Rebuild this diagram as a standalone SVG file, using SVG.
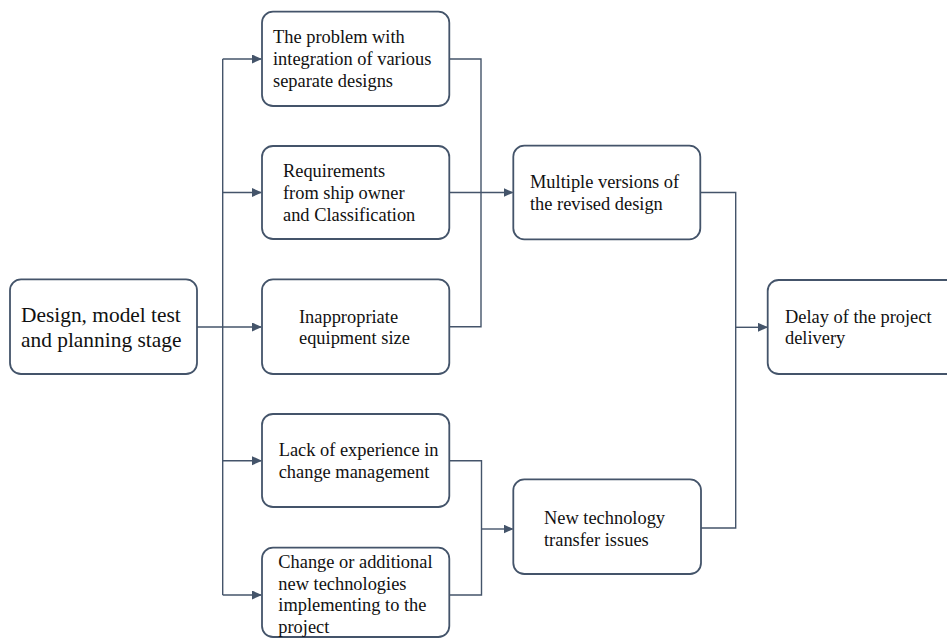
<svg xmlns="http://www.w3.org/2000/svg" width="947" height="639" viewBox="0 0 947 639">
  <style>
    .box { fill: #ffffff; stroke: #44546a; stroke-width: 1.8; }
    .lbl { font-family: 'Liberation Serif', 'DejaVu Serif', 'Times New Roman', Times, serif; font-size: 18.4px; fill: #111111; }
    .big { font-size: 21.4px; }
    .wire { fill: none; stroke: #44546a; stroke-width: 1.4; }
  </style>
  <defs>
    <marker id="arrow" markerWidth="10" markerHeight="10" refX="9" refY="4.5" orient="auto" markerUnits="userSpaceOnUse">
      <path d="M0,0 L10,4.5 L0,9 Z" fill="#44546a"/>
    </marker>
  </defs>
  <rect width="947" height="639" fill="#ffffff"/>

  <!-- connectors -->
  <g id="connectors">
    <!-- trunk from the design stage to the five causes -->
    <line class="wire" x1="222.7" y1="59" x2="222.7" y2="595"/>
    <line class="wire" x1="197" y1="327" x2="261" y2="327" marker-end="url(#arrow)"/>
    <line class="wire" x1="222.7" y1="59" x2="261" y2="59" marker-end="url(#arrow)"/>
    <line class="wire" x1="222.7" y1="192.5" x2="261" y2="192.5" marker-end="url(#arrow)"/>
    <line class="wire" x1="222.7" y1="460.7" x2="261" y2="460.7" marker-end="url(#arrow)"/>
    <line class="wire" x1="222.7" y1="595" x2="261" y2="595" marker-end="url(#arrow)"/>
    <!-- upper bracket to "Multiple versions" -->
    <polyline class="wire" points="449,59 481,59 481,326.7 449,326.7"/>
    <line class="wire" x1="449" y1="192.5" x2="512.5" y2="192.5" marker-end="url(#arrow)"/>
    <!-- lower bracket to "New technology" -->
    <polyline class="wire" points="449,460.7 481.5,460.7 481.5,595 449,595"/>
    <line class="wire" x1="481.5" y1="529" x2="512.5" y2="529" marker-end="url(#arrow)"/>
    <!-- final bracket to "Delay" -->
    <polyline class="wire" points="700,192.5 735.7,192.5 735.7,528 701,528"/>
    <line class="wire" x1="735.7" y1="327.3" x2="767" y2="327.3" marker-end="url(#arrow)"/>
  </g>

  <g id="design-stage">
    <rect class="box" x="10" y="279.3" width="187" height="94.7" rx="11"/>
    <text class="lbl big" x="21" y="321.7">Design, model test</text>
    <text class="lbl big" x="21" y="346.7">and planning stage</text>
  </g>

  <g id="integration">
    <rect class="box" x="262" y="11.7" width="187.3" height="94.3" rx="11"/>
    <text class="lbl" x="273" y="43.3">The problem with</text>
    <text class="lbl" x="273" y="65">integration of various</text>
    <text class="lbl" x="273" y="86.7">separate designs</text>
  </g>

  <g id="requirements">
    <rect class="box" x="262" y="146" width="187.3" height="93" rx="11"/>
    <text class="lbl" x="283" y="176.7">Requirements</text>
    <text class="lbl" x="283" y="199">from ship owner</text>
    <text class="lbl" x="283" y="221">and Classification</text>
  </g>

  <g id="equipment-size">
    <rect class="box" x="262" y="279.3" width="187.3" height="94.7" rx="11"/>
    <text class="lbl" x="299" y="322.7">Inappropriate</text>
    <text class="lbl" x="299" y="344.3">equipment size</text>
  </g>

  <g id="change-experience">
    <rect class="box" x="262" y="414" width="187.3" height="93" rx="11"/>
    <text class="lbl" x="278.7" y="456">Lack of experience in</text>
    <text class="lbl" x="278.7" y="477.7">change management</text>
  </g>

  <g id="new-technologies">
    <rect class="box" x="262" y="547.7" width="187.3" height="89.3" rx="11"/>
    <text class="lbl" x="278.3" y="567.7">Change or additional</text>
    <text class="lbl" x="278.3" y="589.7">new technologies</text>
    <text class="lbl" x="278.3" y="611">implementing to the</text>
    <text class="lbl" x="278.3" y="633">project</text>
  </g>

  <g id="multiple-versions">
    <rect class="box" x="513.3" y="145.7" width="187" height="93.6" rx="11"/>
    <text class="lbl" x="530" y="188.3">Multiple versions of</text>
    <text class="lbl" x="530" y="210">the revised design</text>
  </g>

  <g id="technology-transfer">
    <rect class="box" x="513.3" y="479.3" width="187.7" height="94.7" rx="11"/>
    <text class="lbl" x="544" y="524">New technology</text>
    <text class="lbl" x="544" y="545.5">transfer issues</text>
  </g>

  <g id="project-delay">
    <rect class="box" x="767.7" y="280" width="200" height="94" rx="11"/>
    <text class="lbl" x="785" y="322.7">Delay of the project</text>
    <text class="lbl" x="785" y="344.3">delivery</text>
  </g>
</svg>
